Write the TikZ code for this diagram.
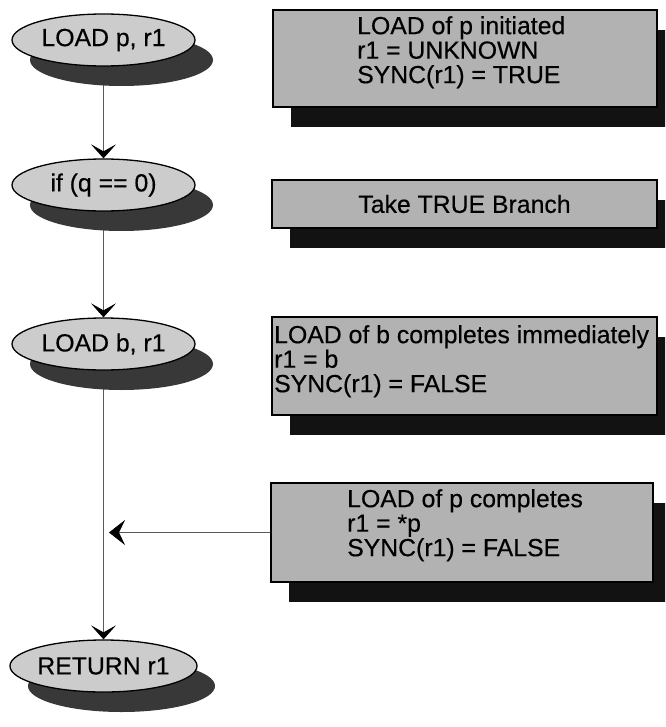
\documentclass[tikz,border=0pt]{standalone}
\usepackage{fontspec}
\setmainfont[FakeBold=0.4]{Liberation Sans}
\usetikzlibrary{shapes.geometric,arrows.meta,shadows,backgrounds}

\definecolor{opfill}{gray}{0.80}
\definecolor{opshadow}{gray}{0.22}
\definecolor{notefill}{gray}{0.70}
\definecolor{noteshadow}{gray}{0.07}
\definecolor{flowline}{gray}{0.35}

\begin{document}
\begin{tikzpicture}[x=1pt,y=-1pt,
  every node/.style={font=\fontsize{24.8}{24.5}\selectfont},
  op/.style={ellipse, draw=black, line width=1.3pt, fill=opfill,
    minimum width=183pt, minimum height=52pt, inner sep=0pt,
    drop shadow={shadow xshift=18pt, shadow yshift=-20pt, fill=opshadow, opacity=1}},
  note/.style={rectangle, draw=black, line width=1.4pt, fill=notefill, inner sep=0pt,
    drop shadow={shadow xshift=18pt, shadow yshift=-20pt, fill=noteshadow, opacity=1}},
  notetext/.style={inner sep=0pt, align=left},
  flow/.style={draw=flowline, line width=0.7pt,
    -{Stealth[length=14pt,width=25pt,inset=7pt,color=black]}},
  merge/.style={draw=flowline, line width=0.7pt,
    -{Stealth[length=16pt,width=25pt,inset=6pt,color=black]}}
]
\useasboundingbox (0,0) rectangle (665,727);
\clip (0,0) rectangle (665,727);

% operations of the program
\node[op] (load1) at (103.5,40)  {LOAD p, r1};
\node[op] (cond)  at (103.5,185) {if (q == 0)};
\node[op] (load2) at (103.5,344) {LOAD b, r1};
\node[op] (ret)   at (103.5,666) {RETURN r1};

% explanatory notes
\node[note, minimum width=384pt, minimum height=97pt] (n1) at (465,58.5) {};
\node[note, minimum width=385pt, minimum height=48pt] (n2) at (464.5,204) {Take TRUE Branch};
\node[note, minimum width=385pt, minimum height=98pt] (n3) at (464.5,366) {};
\node[note, minimum width=382pt, minimum height=99pt] (n4) at (462,532.5) {};

\node[notetext, anchor=north west] (n1text) at (357,16)
  {LOAD of p initiated\\r1 = UNKNOWN\\SYNC(r1) = TRUE};
\node[notetext, anchor=north west] (n3text) at (274,325)
  {LOAD of b completes immediately\\r1 = b\\SYNC(r1) = FALSE};
\node[notetext, anchor=north west] (n4text) at (347,489)
  {LOAD of p completes\\r1 = *p\\SYNC(r1) = FALSE};

% control flow, kept under the shadows
\begin{scope}[on background layer]
  \draw[flow] (load1.south) -- (cond.north);
  \draw[flow] (cond.south) -- (load2.north);
  \draw[flow] (load2.south) -- (ret.north);
  \coordinate (join) at (109,532.5);
  \draw[merge] (n4.west) -- (join);
\end{scope}
\end{tikzpicture}
\end{document}
